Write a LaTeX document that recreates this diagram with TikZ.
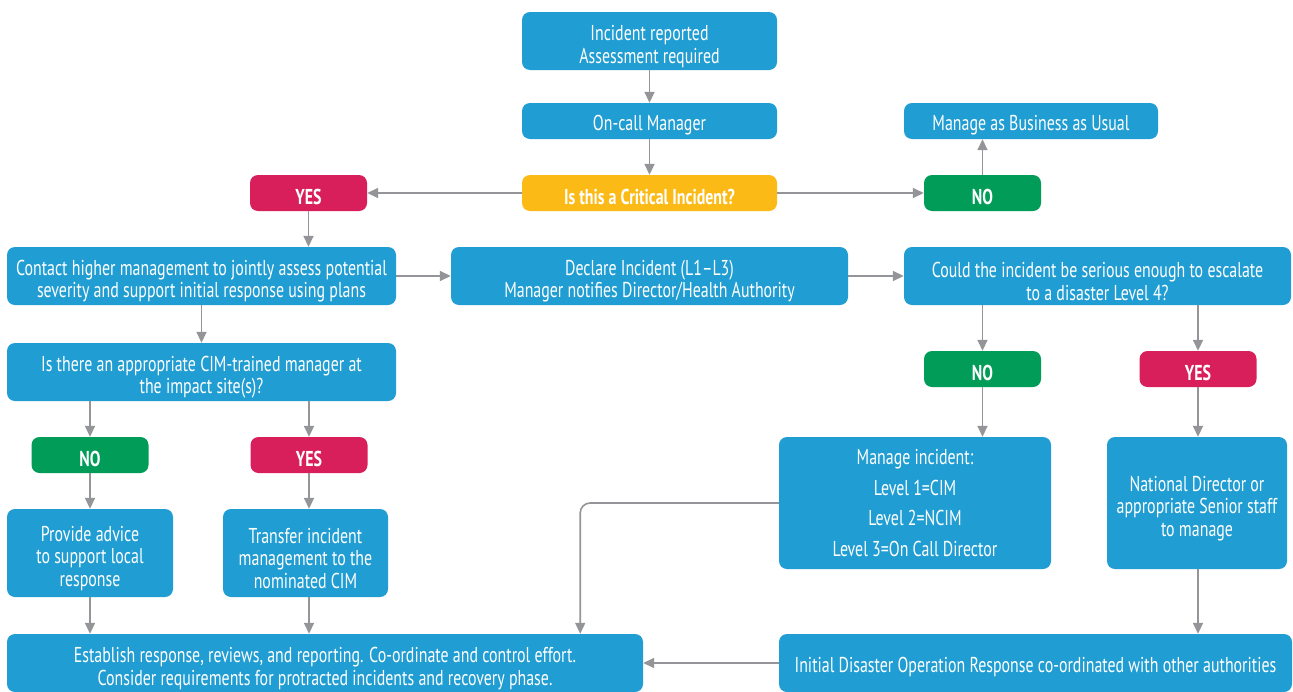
\documentclass[tikz,border=0pt]{standalone}
\usepackage{fontspec}
\setmainfont{PT Sans}[FakeStretch=0.74]
\usetikzlibrary{arrows.meta}
\definecolor{cajaazul}{HTML}{209DD2}
\definecolor{cajaamarilla}{HTML}{FBBA16}
\definecolor{cajaroja}{HTML}{D81E5B}
\definecolor{cajaverde}{HTML}{009C58}
\definecolor{flechagris}{HTML}{939598}
\newcommand{\tope}{\rule{0pt}{26pt}}%baja el texto de varias lineas
\begin{document}
\begin{tikzpicture}[x=1pt,y=-1pt,
    every node/.style={font=\fontsize{21.5}{22.5}\selectfont,text=white,align=center,inner sep=0pt,
        execute at begin node={\rule{0pt}{24pt}}},
    caja/.style={fill=cajaazul,rounded corners=8pt},
    decision/.style={caja,font=\fontsize{21.5}{22.5}\selectfont\bfseries,minimum width=117pt,minimum height=36pt},
    conn/.style={draw=flechagris,line width=1.6pt,-{Triangle[length=11pt,width=10pt]}}]
\def\wide{255pt};%ancho columna central
\def\alto{58pt};%alto cajas de dos lineas

%Fondo
\useasboundingbox[fill=white] (0,0) rectangle (1293,691);

%Columna central
\node[caja,minimum width=\wide,minimum height=\alto] (inc) at (649.5,41) {\tope Incident reported\\Assessment required};
\node[caja,minimum width=\wide,minimum height=36pt] (oncall) at (649.5,121) {On-call Manager};
\node[decision,fill=cajaamarilla,minimum width=\wide] (crit) at (649.5,193) {Is this a Critical Incident?};
\node[decision,fill=cajaroja] (yes1) at (308.5,193) {YES};
\node[decision,fill=cajaverde] (no1) at (982.5,193) {NO};
\node[caja,minimum width=254pt,minimum height=36pt] (bau) at (1031,121) {Manage as Business as Usual};

%Fila de evaluacion
\node[caja,minimum width=389pt,minimum height=\alto] (contact) at (201.5,276) {\tope Contact higher management to jointly assess potential\\severity and support initial response using plans};
\node[caja,minimum width=397pt,minimum height=\alto] (declare) at (649.5,276) {\tope Declare Incident (L1--L3)\\Manager notifies Director/Health Authority};
\node[caja,minimum width=387pt,minimum height=\alto] (could) at (1097.5,276) {\tope Could the incident be serious enough to escalate\\to a disaster Level 4?};

%Rama izquierda
\node[caja,minimum width=389pt,minimum height=\alto] (isthere) at (201.5,372) {\tope Is there an appropriate CIM-trained manager at\\the impact site(s)?};
\node[decision,fill=cajaverde] (no3) at (90,455) {NO};
\node[decision,fill=cajaroja] (yes3) at (309,455) {YES};
\node[caja,minimum width=166pt,minimum height=88pt] (provide) at (90,553) {\tope Provide advice\\to support local\\response};
\node[caja,minimum width=165pt,minimum height=88pt] (transfer) at (305.5,553) {\tope Transfer incident\\management to the\\nominated CIM};

%Rama derecha
\node[decision,fill=cajaverde] (no2) at (982.5,369) {NO};
\node[decision,fill=cajaroja] (yes2) at (1198,369) {YES};
\node[caja,minimum width=272pt,minimum height=132pt] (mgmt) at (915,503) {Manage incident:\\[8pt]Level 1=CIM\\[8pt]Level 2=NCIM\\[8pt]Level 3=On Call Director};
\node[caja,minimum width=180pt,minimum height=132pt] (natl) at (1197,503) {\tope National Director or\\appropriate Senior staff\\to manage};

%Fila inferior
\node[caja,minimum width=636pt,minimum height=\alto] (est) at (325,663) {\tope Establish response, reviews, and reporting. Co-ordinate and control effort.\\Consider requirements for protracted incidents and recovery phase.};
\node[caja,minimum width=513pt,minimum height=\alto] (idor) at (1035.5,663) {Initial Disaster Operation Response co-ordinated with other authorities};

%Flechas
\draw[conn] (inc) -- (oncall);
\draw[conn] (oncall) -- (crit);
\draw[conn] (crit) -- (yes1);
\draw[conn] (crit) -- (no1);
\draw[conn] (no1.north) -- (no1.north |- bau.south);
\draw[conn] (yes1.south) -- (yes1.south |- contact.north);
\draw[conn] (contact) -- (declare);
\draw[conn] (declare) -- (could);
\draw[conn] (contact) -- (isthere);
\draw[conn] (no3.north |- isthere.south) -- (no3);
\draw[conn] (yes3.north |- isthere.south) -- (yes3);
\draw[conn] (no3) -- (provide);
\draw[conn] (yes3.south) -- (yes3.south |- transfer.north);
\draw[conn] (provide.south) -- (provide.south |- est.north);
\draw[conn] (yes3.south |- transfer.south) -- (yes3.south |- est.north);
\draw[conn] (no2.north |- could.south) -- (no2);
\draw[conn] (yes2.north |- could.south) -- (yes2);
\draw[conn] (no2.south) -- (no2.south |- mgmt.north);
\draw[conn] (yes2.south) -- (yes2.south |- natl.north);
\draw[conn] (yes2.south |- natl.south) -- (yes2.south |- idor.north);
\draw[conn] (idor) -- (est);
\draw[conn,rounded corners=10pt] (mgmt.west) -| ([xshift=-63pt]est.north east);
\end{tikzpicture}
\end{document}
